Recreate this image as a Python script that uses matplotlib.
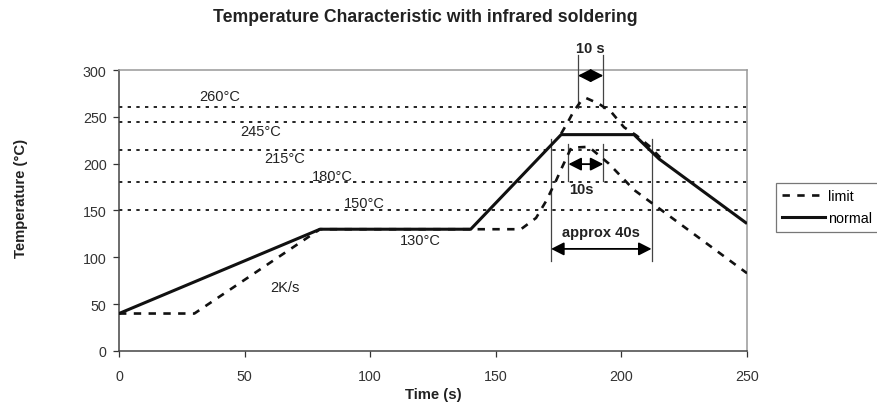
import matplotlib
matplotlib.use("Agg")
import matplotlib.pyplot as plt
from matplotlib.lines import Line2D

plt.rcParams['font.family'] = ['Liberation Sans', 'DejaVu Sans']

# ---- data ----
normal_t = [0, 80, 140, 176, 205, 215, 250]
normal_T = [40, 130, 130, 231, 231, 205, 136]

limit_t = [0, 30, 80, 160, 166, 170, 174, 176, 180, 187, 195, 205, 250]
limit_T = [40, 40, 130, 130, 142, 160, 182, 194, 217, 218, 200, 172, 83]

limit_peak_t = [176, 179, 181, 184, 186, 191, 196, 201, 206, 211, 216]
limit_peak_T = [232, 246, 256, 267, 270, 264, 255, 239, 230, 219, 205]

ref_levels = [260, 245, 215, 180, 150]
ref_labels = ["260°C", "245°C", "215°C", "180°C", "150°C", "130°C", "2K/s"]
ref_label_t = [40, 56.5, 66, 85, 97.5, 120, 66]
ref_label_T = [272, 235, 206, 186.5, 158.5, 118, 68]

# spans: (t_start, t_end, arrow_T, line_bottom, line_top, label, label_t, label_T)
spans = [
    (182.7, 192.8, 294, 259, 316, "10 s", 187.7, 323),
    (178.9, 192.8, 199.5, 182, 221, "10s", 184, 173),
    (172.0, 212.0, 109, 96, 226, "approx 40s", 192, 127),
]

fig = plt.figure(figsize=(8.77, 4.14), dpi=100)
ax = fig.add_axes([0.1357, 0.1498, 0.8518 - 0.1357, 0.8285 - 0.1498])

for lv in ref_levels:
    ax.plot([0, 250], [lv, lv], color='black', lw=1.2, linestyle=(0, (2, 3.2)), zorder=2)

for lab, tx, ty in zip(ref_labels, ref_label_t, ref_label_T):
    ax.text(tx, ty, lab, ha='center', va='center', fontsize=10.5, color='#222222', zorder=3)

dash = (0, (2.8, 2.8))
ax.plot(limit_t, limit_T, color='#111111', lw=1.9, linestyle=dash, zorder=4)
ax.plot(limit_peak_t, limit_peak_T, color='#111111', lw=1.9, linestyle=dash, zorder=4)
ax.plot(normal_t, normal_T, color='#111111', lw=2.2, solid_capstyle='butt', zorder=5)

for t0, t1, ya, yb, yt, lab, lx, ly in spans:
    for tt in (t0, t1):
        ax.plot([tt, tt], [yb, yt], color='#444444', lw=0.9, clip_on=False, zorder=3)
    ax.annotate("", xy=(t0, ya), xytext=(t1, ya),
                arrowprops=dict(arrowstyle='<|-|>,head_length=0.55,head_width=0.28',
                                color='black', lw=1.3,
                                mutation_scale=14, shrinkA=0, shrinkB=0),
                annotation_clip=False, zorder=6)
    ax.text(lx, ly, lab, ha='center', va='center', fontsize=10.5, fontweight='bold',
            color='#222222', zorder=6, clip_on=False)

ax.set_xlim(0, 250)
ax.set_ylim(0, 300)
ax.set_xticks([0, 50, 100, 150, 200, 250])
ax.set_yticks([0, 50, 100, 150, 200, 250, 300])
ax.tick_params(axis='both', labelsize=10.3, length=4, width=0.9, colors='#333333', pad=5)
ax.tick_params(axis='x', pad=9)
for side in ('left', 'bottom'):
    ax.spines[side].set_color('#444444')
    ax.spines[side].set_linewidth(1.1)
for side in ('top', 'right'):
    ax.spines[side].set_color('#999999')
    ax.spines[side].set_linewidth(1.1)

ax.set_xlabel("Time (s)", fontsize=10.7, fontweight='bold', color='#222222', labelpad=3)
fig.text(21.5 / 877, 1 - 198 / 414, "Temperature (°C)", rotation=90, ha='center', va='center',
         fontsize=10.7, fontweight='bold', color='#222222')
fig.text(425.5 / 877, 1 - 17 / 414, "Temperature Characteristic with infrared soldering",
         ha='center', va='center', fontsize=12.7, fontweight='bold', color='#222222')

handles = [Line2D([], [], color='#111111', lw=1.9, linestyle=dash),
           Line2D([], [], color='#111111', lw=2.2)]
leg = fig.legend(handles, ["limit", "normal"], loc='upper left',
                 bbox_to_anchor=(776 / 877, 1 - 184 / 414), fontsize=10.3,
                 frameon=True, fancybox=False, handlelength=3.0, handletextpad=0.2,
                 borderpad=0.45, labelspacing=0.55, borderaxespad=0)
leg.get_frame().set_edgecolor('#555555')
leg.get_frame().set_linewidth(0.9)

fig.savefig("out.png", dpi=100)
